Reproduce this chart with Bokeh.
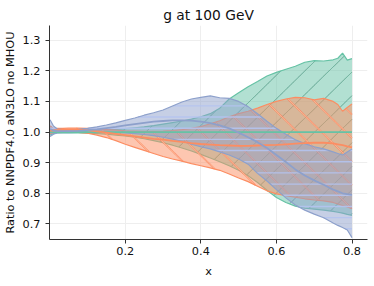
import numpy as np
from bokeh.plotting import figure
from bokeh.models import Range1d, ColumnDataSource, FixedTicker, PrintfTickFormatter
from bokeh.embed import file_html
from bokeh.resources import INLINE

# ---- data (ratio to NNPDF4.0 aN3LO no MHOU) ----
x = [0.001, 0.01, 0.02, 0.035, 0.05, 0.075, 0.1, 0.125, 0.15, 0.175, 0.2, 0.225,
     0.25, 0.275, 0.3, 0.325, 0.35, 0.375, 0.4, 0.425, 0.45, 0.475, 0.5, 0.525,
     0.55, 0.575, 0.6, 0.625, 0.65, 0.675, 0.7, 0.725, 0.75, 0.7625, 0.775, 0.7875, 0.8]

green_central = [1.0] * len(x)
green_upper = [1.015, 1.008, 1.005, 1.004, 1.004, 1.004, 1.005, 1.006, 1.007, 1.009, 1.011, 1.014,
               1.017, 1.021, 1.026, 1.031, 1.036, 1.042, 1.05, 1.06, 1.078, 1.108, 1.128, 1.148,
               1.165, 1.183, 1.195, 1.205, 1.215, 1.228, 1.233, 1.232, 1.236, 1.241, 1.258, 1.235, 1.24]
green_lower = [0.99, 0.995, 0.997, 0.997, 0.997, 0.997, 0.996, 0.995, 0.993, 0.99, 0.987, 0.983,
               0.978, 0.972, 0.965, 0.957, 0.948, 0.938, 0.927, 0.915, 0.903, 0.89, 0.875, 0.857,
               0.835, 0.81, 0.786, 0.77, 0.758, 0.751, 0.748, 0.745, 0.741, 0.738, 0.735, 0.731, 0.728]

orange_central = [1.005, 1.005, 1.006, 1.007, 1.008, 1.008, 1.006, 1.002, 0.998, 0.994, 0.99, 0.986,
                  0.982, 0.978, 0.975, 0.971, 0.968, 0.964, 0.961, 0.959, 0.957, 0.956, 0.955, 0.955,
                  0.956, 0.957, 0.958, 0.96, 0.962, 0.964, 0.965, 0.965, 0.963, 0.96, 0.957, 0.953, 0.95]
orange_upper = [1.02, 1.012, 1.012, 1.012, 1.013, 1.013, 1.012, 1.01, 1.008, 1.006, 1.004, 1.003,
                1.002, 1.002, 1.003, 1.005, 1.008, 1.012, 1.018, 1.027, 1.037, 1.05, 1.06, 1.068,
                1.078, 1.09, 1.1, 1.108, 1.113, 1.112, 1.105, 1.11, 1.1, 1.09, 1.068, 1.08, 1.092]
orange_lower = [0.995, 0.998, 1.0, 1.0, 1.0, 0.999, 0.996, 0.99, 0.982, 0.972, 0.96, 0.95,
                0.94, 0.93, 0.92, 0.912, 0.905, 0.897, 0.89, 0.883, 0.875, 0.863, 0.85, 0.838,
                0.823, 0.808, 0.798, 0.792, 0.787, 0.782, 0.778, 0.775, 0.77, 0.765, 0.76, 0.755, 0.75]

blue_central = [1.01, 1.005, 1.003, 1.003, 1.003, 1.004, 1.006, 1.009, 1.013, 1.017, 1.022, 1.026,
                1.03, 1.034, 1.036, 1.038, 1.038, 1.037, 1.034, 1.029, 1.022, 1.012, 0.998, 0.983,
                0.967, 0.948, 0.925, 0.902, 0.878, 0.858, 0.842, 0.828, 0.812, 0.806, 0.8, 0.797, 0.795]
blue_upper = [1.04, 1.02, 1.01, 1.008, 1.008, 1.009, 1.012, 1.017, 1.023, 1.03, 1.038, 1.046,
              1.055, 1.063, 1.072, 1.085, 1.098, 1.108, 1.113, 1.118, 1.112, 1.11, 1.1, 1.083,
              1.06, 1.035, 1.012, 0.993, 0.975, 0.962, 0.952, 0.945, 0.935, 0.93, 0.925, 0.935, 0.945]
blue_lower = [0.985, 0.993, 0.997, 0.998, 0.998, 0.999, 0.999, 0.999, 0.999, 0.998, 0.997, 0.995,
              0.992, 0.988, 0.983, 0.977, 0.97, 0.96, 0.952, 0.945, 0.935, 0.925, 0.912, 0.895,
              0.865, 0.84, 0.812, 0.785, 0.762, 0.745, 0.732, 0.72, 0.703, 0.695, 0.688, 0.68, 0.655]

x_ticks = [0.2, 0.4, 0.6, 0.8]
y_ticks = [0.7, 0.8, 0.9, 1.0, 1.1, 1.2, 1.3]

FONT = "DejaVu Sans"
GREEN, ORANGE, BLUE = "#66c2a5", "#fc8d62", "#8da0cb"

X0, X1, Y0, Y1 = -0.0005, 0.841, 0.649, 1.348
W, H = 370, 280
BL, BR, BT, BB = 49, 3, 25, 36
FW, FH = W - BL - BR, H - BT - BB
SLOPE45 = (FW / (X1 - X0)) / (FH / (Y1 - Y0))   # data slope of a 45 degree screen line


def hatch_geometry(xv, up, lo, slope, step, phase):
    """Hatch lines (y = slope*x + c) clipped to the band lo..up, NaN separated."""
    xs = np.linspace(xv[0], xv[-1], 2400)
    u = np.interp(xs, xv, up)
    l = np.interp(xs, xv, lo)
    cmin = np.min(l - slope * xs) - step
    cmax = np.max(u - slope * xs) + step
    hx, hy = [], []
    c = phase + np.floor((cmin - phase) / step) * step
    while c <= cmax:
        yl = slope * xs + c
        m = (yl >= l) & (yl <= u)
        if m.any():
            hx.extend(np.where(m, xs, np.nan).tolist() + [np.nan])
            hy.extend(np.where(m, yl, np.nan).tolist() + [np.nan])
        c += step
    return hx, hy


src = ColumnDataSource(dict(x=x, gc=green_central, gu=green_upper, gl=green_lower,
                            oc=orange_central, ou=orange_upper, ol=orange_lower,
                            bc=blue_central, bu=blue_upper, bl=blue_lower))

p = figure(width=W, height=H, output_backend="svg", toolbar_location=None,
           x_range=Range1d(X0, X1), y_range=Range1d(Y0, Y1),
           min_border_left=BL, min_border_right=BR, min_border_top=BT, min_border_bottom=BB)
p.background_fill_color = "white"
p.border_fill_color = "white"
p.outline_line_color = None

p.title.text = "g at 100 GeV"
p.title.align = "center"
p.title.text_font = FONT
p.title.text_font_size = "13.8px"
p.title.text_font_style = "normal"
p.title.text_color = "#111111"
p.title.standoff = 6
p.title.offset = 0

for ax in (p.xaxis[0], p.yaxis[0]):
    ax.axis_line_color = "#333333"
    ax.axis_line_width = 1
    ax.major_tick_line_color = "#333333"
    ax.major_tick_out = 4
    ax.major_tick_in = 0
    ax.minor_tick_line_color = None
    ax.major_label_text_font = FONT
    ax.major_label_text_font_size = "11.3px"
    ax.major_label_text_color = "#111111"
    ax.axis_label_text_font = FONT
    ax.axis_label_text_font_size = "11.3px"
    ax.axis_label_text_font_style = "normal"
    ax.axis_label_text_color = "#111111"

p.xaxis.ticker = FixedTicker(ticks=x_ticks)
p.yaxis.ticker = FixedTicker(ticks=y_ticks)
p.xaxis.formatter = PrintfTickFormatter(format="%.1f")
p.yaxis.formatter = PrintfTickFormatter(format="%.1f")
p.xaxis.axis_label = "x"
p.yaxis.axis_label = "Ratio to NNPDF4.0 aN3LO no MHOU"
p.xaxis.major_label_standoff = 3
p.xaxis.axis_label_standoff = 7
p.yaxis.major_label_standoff = 5
p.yaxis.axis_label_standoff = 3

p.xgrid.ticker = FixedTicker(ticks=x_ticks)
p.ygrid.ticker = FixedTicker(ticks=y_ticks)
p.grid.grid_line_color = "#eeeeee"
p.grid.grid_line_width = 1

xv = np.array(x)
# (upper, lower, values, colour, hatch slope, hatch step, phase, hatch colour, hatch width)
bands = [
    ("gu", "gl", green_upper, green_lower, GREEN, SLOPE45, 0.077, 0.0, "#4f9c84", 0.9),
    ("ou", "ol", orange_upper, orange_lower, ORANGE, -SLOPE45, 0.077, 0.02, "#fc8d62", 1.6),
    ("bu", "bl", blue_upper, blue_lower, BLUE, 0.0, 0.0365, 0.903, "#b4c3ee", 1.4),
]
for up, lo, upv, lov, col, slope, step, phase, hcol, hw in bands:
    p.varea(x="x", y1=lo, y2=up, source=src, fill_color=col, fill_alpha=0.5)
    hx, hy = hatch_geometry(xv, np.array(upv), np.array(lov), slope, step, phase)
    p.line(hx, hy, line_color=hcol, line_width=hw, line_alpha=0.9)
    if col == ORANGE:
        p.line(hx, hy, line_color="#ffe6dc", line_width=0.6, line_alpha=0.9)
    p.line(x="x", y=up, source=src, line_color=col, line_width=1.2)
    p.line(x="x", y=lo, source=src, line_color=col, line_width=1.2)

for c, col in (("gc", GREEN), ("oc", ORANGE), ("bc", BLUE)):
    p.line(x="x", y=c, source=src, line_color=col, line_width=1.8)

open("out.html", "w").write(file_html(p, INLINE))
